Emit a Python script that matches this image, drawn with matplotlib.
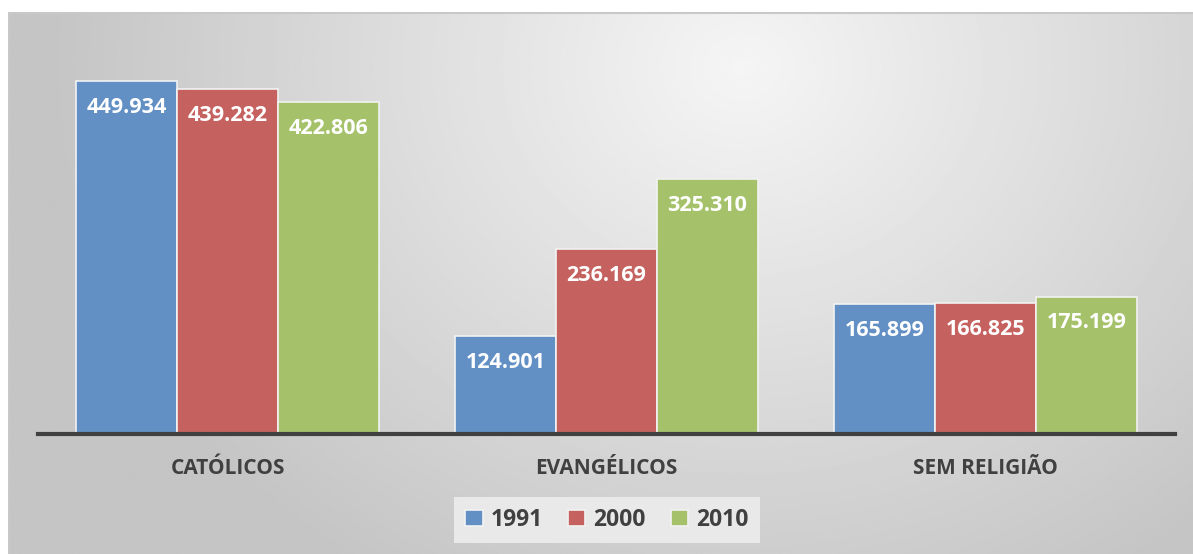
import numpy as np
import matplotlib
matplotlib.use("Agg")
import matplotlib.pyplot as plt

categories = ["CATÓLICOS", "EVANGÉLICOS", "SEM RELIGIÃO"]
years = ["1991", "2000", "2010"]
values_1991 = [449.934, 124.901, 165.899]
values_2000 = [439.282, 236.169, 166.825]
values_2010 = [422.806, 325.310, 175.199]
series = [values_1991, values_2000, values_2010]
colors = ["#6290C4", "#C5625F", "#A5C26B"]

plt.rcParams["font.family"] = ["Open Sans", "DejaVu Sans"]

W, H = 1193, 554
fig = plt.figure(figsize=(W / 100, H / 100), dpi=100)

# radial gradient background of the chart frame
bg = fig.add_axes([8 / W, 0, (W - 8) / W, (H - 12) / H])
yy, xx = np.mgrid[0:1:300j, 0:1:600j]
d = np.sqrt(((xx - 0.62) * 1.9) ** 2 + (yy - 0.1) ** 2)
shade = np.clip(0.96 - 0.17 * d, 0.77, 1.0)
bg.imshow(shade, cmap="gray", vmin=0, vmax=1, aspect="auto", extent=(0, 1, 1, 0))
bg.set_xlim(0, 1)
bg.set_ylim(1, 0)
bg.axis("off")
bg.plot([0, 1], [0.001, 0.001], color="#c8c8c8", lw=1.5)
bg.plot([0.0008, 0.0008], [0, 1], color="#c8c8c8", lw=1.5)

px = 0.7846  # pixels per unit
top = 434 - 500 * px
ax = fig.add_axes([38 / W, (H - 434) / H, (1175 - 38) / W, (434 - top) / H])
ax.patch.set_alpha(0)

x = np.arange(len(categories))
width = 0.266
for i, (vals, col, yr) in enumerate(zip(series, colors, years)):
    pos = x + (i - 1) * width
    bars = ax.bar(pos, vals, width, color=col, edgecolor="#f2f2f2", linewidth=1.2, label=yr)
    for b, v in zip(bars, vals):
        ax.annotate(f"{v:.3f}", (b.get_x() + b.get_width() / 2, v),
                    xytext=(0, -19), textcoords="offset points",
                    ha="center", va="center", color="white",
                    fontsize=15.5, fontweight="bold")

ax.set_xlim(-0.5, 2.5)
ax.set_ylim(0, 500)
for s in ["top", "right", "left"]:
    ax.spines[s].set_visible(False)
ax.spines["bottom"].set_color("#404040")
ax.spines["bottom"].set_linewidth(3)
ax.set_yticks([])
ax.set_xticks(x)
ax.set_xticklabels(categories, fontsize=15, fontweight="bold", color="#404040")
ax.tick_params(axis="x", length=0, pad=17)

leg = fig.legend(loc="center", bbox_to_anchor=(607 / W, 1 - 520 / H), ncol=3,
                 frameon=True, fancybox=False, fontsize=16.5,
                 handlelength=0.75, handleheight=0.75, handletextpad=0.35,
                 columnspacing=1.1, borderpad=0.5)
leg.get_frame().set_facecolor("#e9e9e9")
leg.get_frame().set_edgecolor("none")
leg.get_frame().set_alpha(1)
for t in leg.get_texts():
    t.set_fontweight("bold")
    t.set_color("#404040")

fig.savefig("out.png", dpi=100)
